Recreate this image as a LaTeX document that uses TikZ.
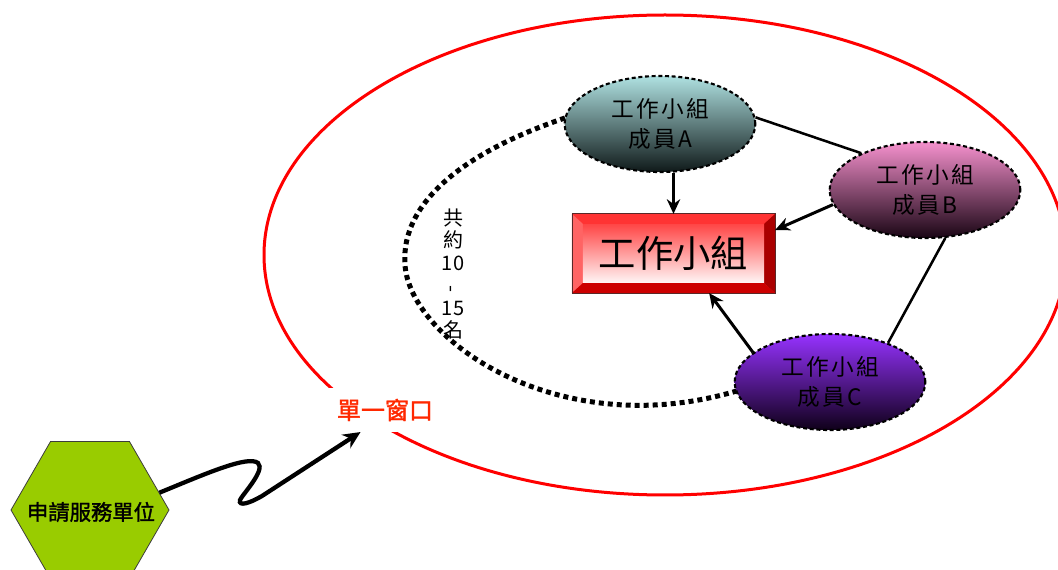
\documentclass[tikz,border=0pt]{standalone}
\usepackage{fontspec}
\setmainfont{Noto Sans CJK TC}
\newfontfamily\boldcjk[FakeBold=1.5]{Noto Sans CJK TC}
\newfontfamily\widecjk[LetterSpace=10]{Noto Sans CJK TC}
\usepackage{tikz}
\usetikzlibrary{shapes.geometric}
\usetikzlibrary{arrows.meta}
\usetikzlibrary{calc}

\begin{document}
\begin{tikzpicture}[x=0.75pt,y=0.75pt,yscale=-1,xscale=1,
  member/.style={ellipse, draw, line width=1.6pt, dash pattern={on 3pt off 2pt}, minimum width=143pt, minimum height=72pt, inner sep=0pt, align=center, font=\widecjk\fontsize{17}{22}\selectfont},
  conn/.style={line width=2.25pt, -{Stealth[length=11pt,width=10pt]}},
  tie/.style={line width=1.9pt}
]
\useasboundingbox (0,0) rectangle (1058,570);
\clip (0,0) rectangle (1058,570);

%Shape: Ellipse
\draw [color={rgb, 255:red, 255; green, 0; blue, 0 }, line width=2.25pt] (665,255) ellipse [x radius=401, y radius=240];

%Curve Lines
\draw [line width=3.75pt, dash pattern={on 3.75pt off 3pt}] (565,118) .. controls (470,150) and (400,200) .. (405,265) .. controls (410,340) and (560,445) .. (740,390) ;

%Shape: Ellipse
\node [member, top color={rgb, 255:red, 175; green, 225; blue, 225 }, bottom color={rgb, 255:red, 15; green, 25; blue, 25 }] (memA) at (660,124) {工作小組\\成員A};
\node [member, top color={rgb, 255:red, 245; green, 145; blue, 205 }, bottom color={rgb, 255:red, 25; green, 5; blue, 20 }] (memB) at (925,190) {工作小組\\成員B};
\node [member, top color={rgb, 255:red, 150; green, 50; blue, 255 }, bottom color={rgb, 255:red, 15; green, 0; blue, 25 }] (memC) at (830,382) {工作小組\\成員C};

%Shape: Bevel
\node [rectangle, minimum width=152pt, minimum height=59pt, inner sep=0pt, fill={rgb, 255:red, 255; green, 51; blue, 51 }] (team) at (673.5,253.5) {};
\fill [color={rgb, 255:red, 255; green, 100; blue, 100 }] (team.north west) -- ($(team.north west)+(11,10)$) -- ($(team.south west)+(11,-10)$) -- (team.south west) -- cycle;
\fill [color={rgb, 255:red, 170; green, 0; blue, 0 }] (team.north east) -- ($(team.north east)+(-11,10)$) -- ($(team.south east)+(-11,-10)$) -- (team.south east) -- cycle;
\fill [color={rgb, 255:red, 204; green, 0; blue, 0 }] (team.south west) -- ($(team.south west)+(11,-10)$) -- ($(team.south east)+(-11,-10)$) -- (team.south east) -- cycle;
\draw [color={rgb, 255:red, 90; green, 40; blue, 40 }, line width=0.6pt] (team.north west) rectangle (team.south east);
% Text Node
\node [rectangle, minimum width=136pt, minimum height=44pt, inner sep=0pt, top color={rgb, 255:red, 255; green, 70; blue, 70 }, bottom color={rgb, 255:red, 255; green, 245; blue, 245 }, font=\fontsize{28}{30}\selectfont] (teamtext) at (team) {工作小組};

%Straight Lines
\draw [conn] (memA.south -| team.north) -- (team.north) ;
\draw [conn] (memB.189) -- (team.13) ;
\draw [conn] (memC.159) -- (team.-48) ;
\draw [tie] (memA.4) -- (memB.150) ;
\draw [tie] (memB.-67) -- (memC.34) ;

% Text Node
\node [align=center, font=\fontsize{15}{16.8}\selectfont] (count) at (453,274) {共\\約\\10\\\rotatebox{90}{-}\\15\\名};

% Text Node
\node [fill=white, inner sep=8pt, text={rgb, 255:red, 255; green, 40; blue, 0 }, font=\boldcjk\fontsize{18}{20}\selectfont] (window) at (385,410) {單一窗口};

%Shape: Hexagon
\node [regular polygon, regular polygon sides=6, minimum size=118.5pt, inner sep=0pt, fill={rgb, 255:red, 153; green, 204; blue, 0 }, draw={rgb, 255:red, 60; green, 60; blue, 60 }, line width=0.6pt] (client) at (90,510) {};
% Text Node
\node [font=\boldcjk\fontsize{16}{18}\selectfont] (clienttext) at (91,512) {申請服務單位};

%Curve Lines
\draw [line width=3.2pt, -{Stealth[length=13pt,width=12pt]}] (client.14) .. controls (205,474) and (248,455) .. (258,463) .. controls (266,470) and (242,495) .. (240,500) .. controls (238,507) and (250,503) .. (262,496) -- (window.222) ;

\end{tikzpicture}
\end{document}
